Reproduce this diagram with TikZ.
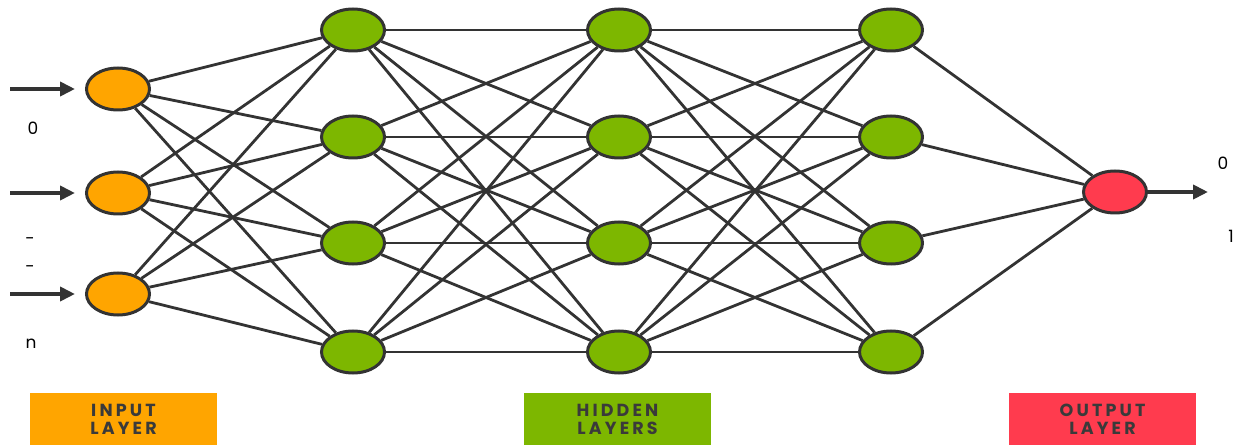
\documentclass[tikz,border=0pt]{standalone}
\usepackage{fontspec}
\setmainfont{Poppins}
\newfontfamily\etiqfont[LetterSpace=18]{Poppins}
\usepackage{tikz}
\usetikzlibrary{shapes.geometric, arrows.meta}
\definecolor{cnaranja}{HTML}{FFA500}
\definecolor{cverde}{HTML}{7DB700}
\definecolor{crojo}{HTML}{FF3B4E}
\definecolor{cgris}{HTML}{333333}
\definecolor{ctexto}{HTML}{3A3A3A}
\tikzset{
  neurona/.style={ellipse, draw=cgris, fill=#1, line width=3pt,
                  minimum width=63pt, minimum height=42pt, inner sep=0pt},
  enlace/.style={draw=cgris, line width=2.8pt},
  flecha/.style={-{Triangle[length=15pt, width=14pt]}, line width=4.5pt, draw=cgris},
  capa/.style={rectangle, fill=#1, minimum width=187pt, minimum height=52pt,
               align=center, text=ctexto, font=\etiqfont\bfseries\fontsize{17.5}{18}\selectfont},
  valor/.style={text=black, font=\fontsize{17}{17}\selectfont},
}

\begin{document}
\begin{tikzpicture}[x=1pt, y=1pt]
        \useasboundingbox (0,0) rectangle (1243,445);
        % capa de entrada
        \node[neurona=cnaranja] (e1) at (118,356) {};
        \node[neurona=cnaranja] (e2) at (118,252) {};
        \node[neurona=cnaranja] (e3) at (118,151) {};
        % capas ocultas
        \foreach \c/\x in {a/353, b/619, c/891} {
            \node[neurona=cverde] (\c1) at (\x,415) {};
            \node[neurona=cverde] (\c2) at (\x,308) {};
            \node[neurona=cverde] (\c3) at (\x,202) {};
            \node[neurona=cverde] (\c4) at (\x,93) {};
        }
        % capa de salida
        \node[neurona=crojo] (s) at (1115,253) {};
        % conexiones
        \foreach \i in {1,2,3} \foreach \j in {1,...,4} \draw[enlace] (e\i)--(a\j);
        \foreach \i in {1,...,4} \foreach \j in {1,...,4} {
            \draw[enlace] (a\i)--(b\j);
            \draw[enlace] (b\i)--(c\j);
        }
        \foreach \i in {1,...,4} \draw[enlace] (c\i)--(s);
        % entradas y salida
        \coordinate (x1) at (10,356);
        \coordinate (x2) at (10,252);
        \coordinate (x3) at (10,151);
        \coordinate (y) at (1208,253);
        \foreach \i in {1,2,3} \draw[flecha, shorten >=10pt] (x\i)--(e\i);
        \draw[flecha] (s)--(y);
        \node[valor] (v0) at (33,317) {0};
        \node[valor] (vg1) at (30,204) {-};
        \node[valor] (vg2) at (30,176) {-};
        \node[valor] (vn) at (31,101) {n};
        \node[valor] (w0) at (1223,282) {0};
        \node[valor] (w1) at (1231,209) {1};
        % etiquetas
        \node[capa=cnaranja] (le) at (123.5,26) {INPUT\\LAYER};
        \node[capa=cverde] (lo) at (617.5,26) {HIDDEN\\LAYERS};
        \node[capa=crojo] (ls) at (1102.5,26) {OUTPUT\\LAYER};
    \end{tikzpicture}
\end{document}
